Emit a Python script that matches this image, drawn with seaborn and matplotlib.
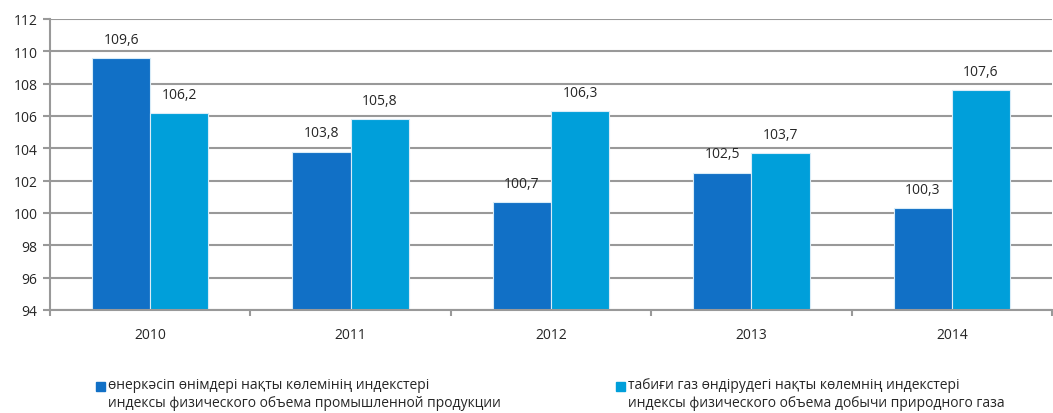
import pandas as pd
import numpy as np
import matplotlib
matplotlib.use('Agg')
import matplotlib.pyplot as plt
import seaborn as sns
from matplotlib.patches import Rectangle

years = ['2010', '2011', '2012', '2013', '2014']
industry = [109.6, 103.8, 100.7, 102.5, 100.3]
gas = [106.2, 105.8, 106.3, 103.7, 107.6]
series = ['өнеркәсіп өнімдері нақты көлемінің индекстері\nиндексы физического объема промышленной продукции',
          'табиғи газ өндірудегі нақты көлемнің индекстері\nиндексы физического объема добычи природного газа']
colors = ['#1170C6', '#009FDA']

df = pd.DataFrame({'year': years * 2,
                   'value': industry + gas,
                   'series': [series[0]] * 5 + [series[1]] * 5})

sns.set_style('white')
plt.rcParams['font.family'] = ['Open Sans', 'DejaVu Sans']

W, H = 1053, 414
fig = plt.figure(figsize=(W/100, H/100), dpi=100)
ax = fig.add_axes([50/W, 1-311/H, 1002/W, 291/H])

sns.barplot(data=df, x='year', y='value', hue='series', palette=colors, saturation=1,
            width=0.58, gap=0, ax=ax, legend=False, linewidth=0.8, edgecolor='#d8ecf8')

ax.set_ylim(94, 112)
ax.set_yticks(np.arange(94, 113, 2))
ax.grid(axis='y', color='#999999', linewidth=1.5)
ax.set_axisbelow(True)
ax.set_xlabel('')
ax.set_ylabel('')
for s in ['top', 'right']:
    ax.spines[s].set_visible(False)
for s in ['left', 'bottom']:
    ax.spines[s].set_color('#999999')
    ax.spines[s].set_linewidth(1.5)
ax.tick_params(axis='y', left=True, length=5, color='#999999', width=1.5, labelsize=10, pad=4)
ax.tick_params(axis='x', bottom=False, labelsize=10, pad=9)
ax.set_xticks(np.arange(-0.5, 5.0, 1), minor=True)
ax.tick_params(axis='x', which='minor', bottom=True, length=4, color='#999999', width=1.5)
ax.set_xlim(-0.5, 4.5)

for c in ax.containers:
    ax.bar_label(c, labels=[f'{v:.1f}'.replace('.', ',') for v in c.datavalues],
                 padding=8, fontsize=10)

# legend drawn by hand: square on the first line, two text lines
for x0, lab, col in zip([96, 616], series, colors):
    l1, l2 = lab.split('\n')
    fig.patches.append(Rectangle((x0/W, 1-392/H), 9/W, 9/H, color=col,
                                 transform=fig.transFigure, figure=fig))
    fig.text((x0+12)/W, 1-386/H, l1, fontsize=10, va='center', ha='left')
    fig.text((x0+12)/W, 1-404/H, l2, fontsize=10, va='center', ha='left')

fig.savefig('out.png', dpi=100)
